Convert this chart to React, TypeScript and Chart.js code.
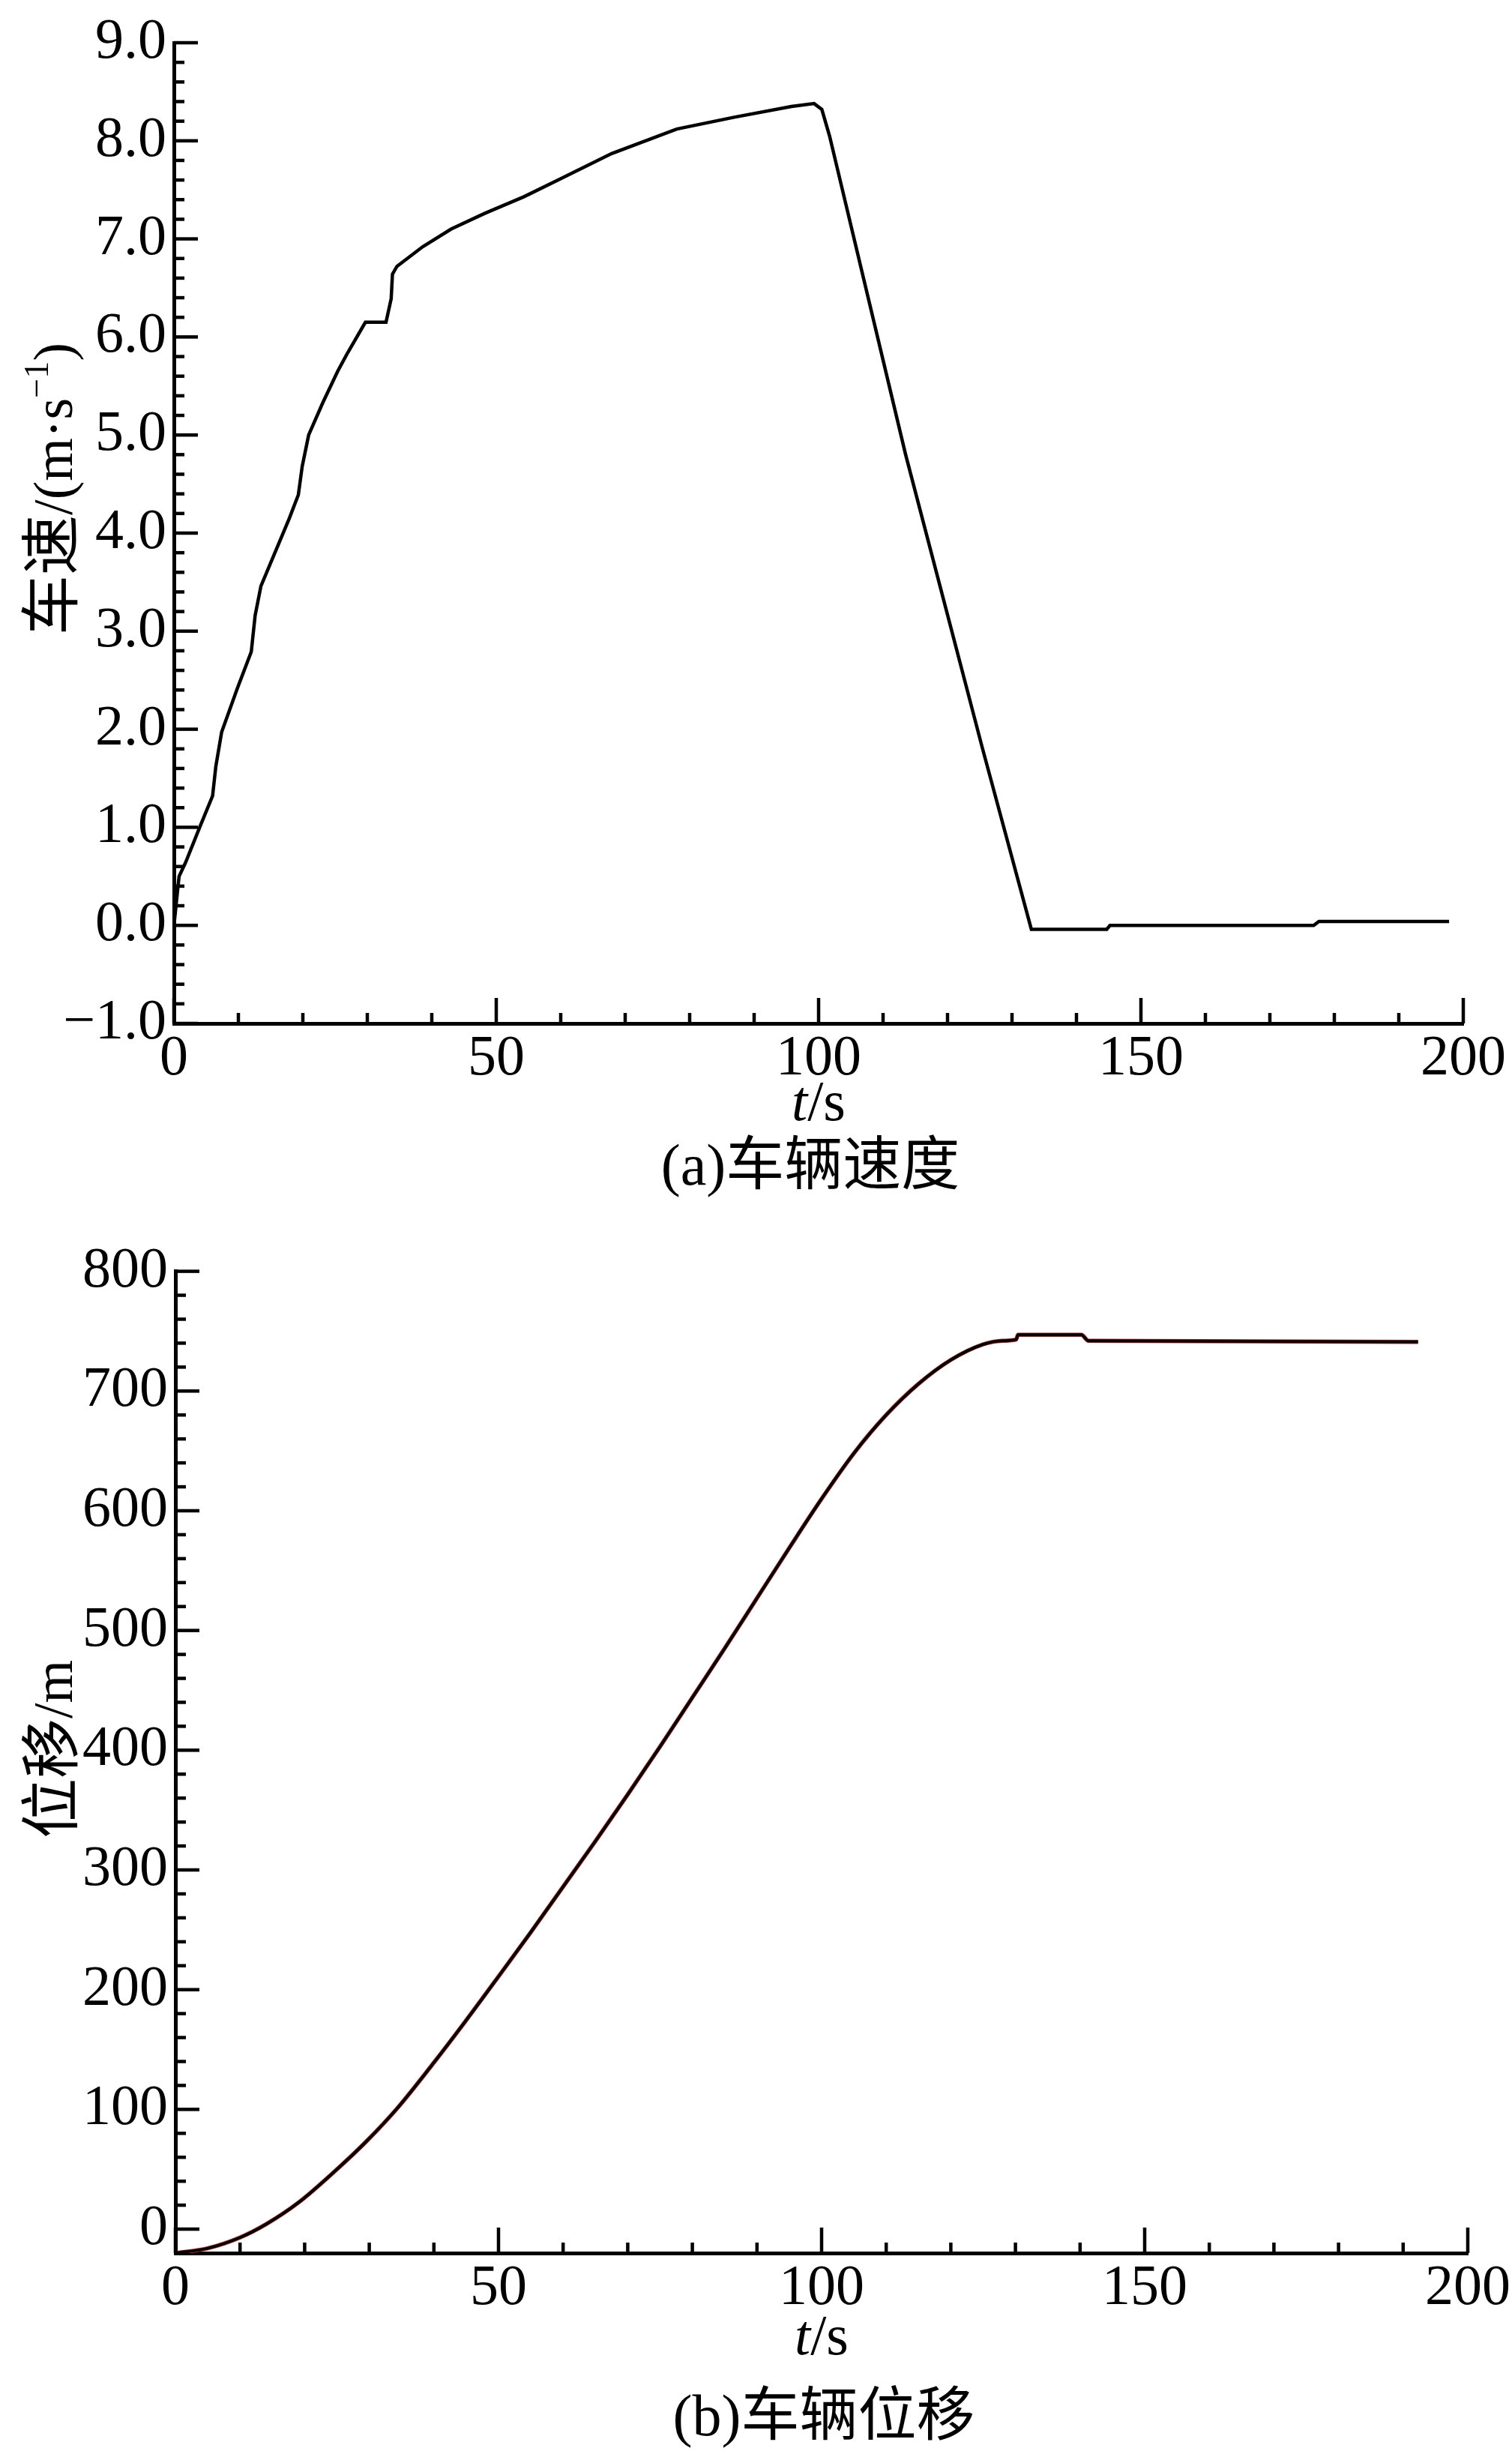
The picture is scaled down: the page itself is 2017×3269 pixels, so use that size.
import React, { useEffect, useRef } from "react";
import { Chart, registerables } from "chart.js";

Chart.register(...registerables);

// ---------- data ----------
const speedTime = [0, 0.2, 0.8, 1.8, 4.0, 6.0, 6.5, 7.4, 9.8, 12.0, 12.6, 13.5, 17.9, 19.3, 19.9, 20.9, 23.1, 25.4, 26.8, 29.7, 32.9, 33.7, 33.9, 34.6, 38.6, 43.0, 48.2, 54.3, 60.2, 67.9, 78.0, 86.9, 95.8, 99.3, 100.5, 101.7, 113.5, 125.4, 133.0, 144.7, 145.2, 176.8, 177.6, 197.8];
const speedValues = [0.0, 0.12, 0.5, 0.64, 1.0, 1.32, 1.62, 1.97, 2.41, 2.79, 3.16, 3.46, 4.15, 4.39, 4.68, 5.0, 5.33, 5.65, 5.82, 6.15, 6.15, 6.39, 6.64, 6.72, 6.92, 7.1, 7.26, 7.43, 7.62, 7.87, 8.12, 8.24, 8.35, 8.38, 8.32, 8.05, 4.8, 1.81, -0.04, -0.04, 0.0, 0.0, 0.04, 0.04];

const dispTime = [0, 5, 10, 14, 19, 25, 29.5, 34.5, 39.7, 44.8, 50, 55, 60, 65, 70, 75, 80, 85, 90, 95, 100, 105, 110, 115, 120, 125, 128, 130.1, 130.4, 140.2, 141.3, 192.3];
const dispValues = [-20, -16, -7, 4, 22, 50, 73, 102, 137, 173, 211, 248, 286, 324, 363, 403, 444, 485, 527, 569, 610, 648, 680, 706, 726, 739, 742, 743, 747, 747, 742, 741];

const timeTicks = [0, 50, 100, 150, 200];
const speedTicks = [-1, 0, 1, 2, 3, 4, 5, 6, 7, 8, 9];
const dispTicks = [0, 100, 200, 300, 400, 500, 600, 700, 800];

const SERIF = "'Liberation Serif', 'Times New Roman', 'Noto Sans CJK SC', serif";
const PAGE_W = 2017;

// ---------- plugin: inward ticks, axis titles, caption ----------
const decorPlugin = {
  id: "decor",
  afterDraw(chart: any, _args: any, opts: any) {
    const { ctx, chartArea } = chart;
    const xs = chart.scales.x;
    const ys = chart.scales.y;
    ctx.save();
    ctx.strokeStyle = "#000";
    ctx.lineWidth = 4.5;
    ctx.lineCap = "butt";
    // y ticks (pointing into the plot)
    const ny = Math.round((ys.max - ys.min) / opts.yMinor);
    for (let k = 0; k <= ny; k++) {
      const v = ys.min + k * opts.yMinor;
      const r = v / opts.yMajor;
      const major = Math.abs(r - Math.round(r)) < 1e-6;
      const len = major ? 32 : 14;
      const py = ys.getPixelForValue(v);
      ctx.beginPath();
      ctx.moveTo(chartArea.left, py);
      ctx.lineTo(chartArea.left + len, py);
      ctx.stroke();
    }
    // x ticks
    const nx = Math.round((xs.max - xs.min) / opts.xMinor);
    for (let k = 0; k <= nx; k++) {
      const v = xs.min + k * opts.xMinor;
      const r = v / opts.xMajor;
      const major = Math.abs(r - Math.round(r)) < 1e-6;
      const len = major ? 34 : 14;
      const px = xs.getPixelForValue(v);
      ctx.beginPath();
      ctx.moveTo(px, chartArea.bottom);
      ctx.lineTo(px, chartArea.bottom - len);
      ctx.stroke();
    }

    ctx.fillStyle = "#000";
    ctx.textBaseline = "middle";
    // x title: italic t + /s
    const cx = (chartArea.left + chartArea.right) / 2;
    ctx.font = `italic 76px ${SERIF}`;
    const wt = ctx.measureText("t").width;
    ctx.font = `76px ${SERIF}`;
    const ws = ctx.measureText("/s").width;
    const sx = cx - (wt + ws) / 2;
    ctx.textAlign = "left";
    ctx.font = `italic 76px ${SERIF}`;
    ctx.fillText("t", sx, opts.xTitleY);
    ctx.font = `76px ${SERIF}`;
    ctx.fillText("/s", sx + wt, opts.xTitleY);

    // caption
    ctx.textAlign = "center";
    ctx.font = `78px ${SERIF}`;
    ctx.fillText(opts.caption, opts.captionX, opts.captionY);

    // y title (rotated)
    ctx.save();
    ctx.translate(opts.yTitleX, opts.yTitleY);
    ctx.rotate(-Math.PI / 2);
    ctx.textBaseline = "alphabetic";
    ctx.textAlign = "left";
    const parts: { t: string; size: number; dy: number }[] = opts.yParts;
    let total = 0;
    for (const p of parts) {
      ctx.font = `${p.size}px ${SERIF}`;
      total += ctx.measureText(p.t).width;
    }
    let px = -total / 2;
    for (const p of parts) {
      ctx.font = `${p.size}px ${SERIF}`;
      ctx.fillText(p.t, px, p.dy);
      px += ctx.measureText(p.t).width;
    }
    ctx.restore();
    ctx.restore();
  },
};

const tickFont = { family: SERIF, size: 76 };

function baseScales(opts: {
  xTicks: number[];
  yTicks: number[];
  yMin: number;
  yMax: number;
  yWidth: number;
  xHeight: number;
  yFmt: (v: number) => string;
}) {
  return {
    x: {
      type: "linear",
      min: 0,
      max: 200,
      afterBuildTicks: (s: any) => {
        s.ticks = opts.xTicks.map((v) => ({ value: v }));
      },
      afterFit: (s: any) => {
        s.height = opts.xHeight;
      },
      grid: { display: false, drawTicks: false },
      border: { display: true, color: "#000", width: 5 },
      ticks: {
        font: tickFont,
        color: "#000",
        padding: 2,
        maxRotation: 0,
        autoSkip: false,
        callback: (v: any) => String(v),
      },
    },
    y: {
      type: "linear",
      min: opts.yMin,
      max: opts.yMax,
      afterBuildTicks: (s: any) => {
        s.ticks = opts.yTicks.map((v) => ({ value: v }));
      },
      afterFit: (s: any) => {
        s.width = opts.yWidth;
      },
      grid: { display: false, drawTicks: false },
      border: { display: true, color: "#000", width: 5 },
      ticks: {
        font: tickFont,
        color: "#000",
        padding: 10,
        autoSkip: false,
        callback: (v: any) => opts.yFmt(Number(v)),
      },
    },
  };
}

const TOP_H = 1640;
const BOT_TOP = 1640;
const BOT_H = 3269 - 1640;

function speedConfig(): any {
  return {
    type: "line",
    data: {
      datasets: [
        {
          label: "车速",
          data: speedTime.map((t, i) => ({ x: t, y: speedValues[i] })),
          borderColor: "#000",
          borderWidth: 4.5,
          pointRadius: 0,
          tension: 0,
          fill: false,
        },
      ],
    },
    options: {
      animation: false,
      responsive: false,
      devicePixelRatio: 1,
      layout: { padding: { left: 0, top: 57, right: PAGE_W - 1952, bottom: 0 } },
      plugins: {
        legend: { display: false },
        tooltip: { enabled: false },
        decor: {
          yMinor: 0.2,
          yMajor: 1,
          xMinor: 10,
          xMajor: 50,
          xTitleY: 1474,
          caption: "(a)车辆速度",
          captionX: 1081,
          captionY: 1560,
          yTitleX: 96,
          yTitleY: 652,
          yParts: [
            { t: "车速", size: 80, dy: 0 },
            { t: "/(m·s", size: 74, dy: 0 },
            { t: "−1", size: 46, dy: -32 },
            { t: ")", size: 74, dy: 0 },
          ],
        },
      },
      scales: baseScales({
        xTicks: timeTicks,
        yTicks: speedTicks,
        yMin: -1,
        yMax: 9,
        yWidth: 232,
        xHeight: TOP_H - 1365,
        yFmt: (v) => (v < 0 ? "−" + Math.abs(v).toFixed(1) : v.toFixed(1)),
      }),
    },
    plugins: [decorPlugin],
  };
}

function dispConfig(): any {
  const pts = dispTime.map((t, i) => ({ x: t, y: dispValues[i] }));
  return {
    type: "line",
    data: {
      datasets: [
        {
          label: "位移",
          data: pts,
          borderColor: "#000",
          borderWidth: 4,
          pointRadius: 0,
          cubicInterpolationMode: "monotone",
          fill: false,
        },
        {
          label: "位移(仿真)",
          data: pts,
          borderColor: "#d81e1e",
          borderWidth: 5.5,
          pointRadius: 0,
          cubicInterpolationMode: "monotone",
          fill: false,
        },
      ],
    },
    options: {
      animation: false,
      responsive: false,
      devicePixelRatio: 1,
      layout: { padding: { left: 0, top: 1695 - BOT_TOP, right: PAGE_W - 1958, bottom: 0 } },
      plugins: {
        legend: { display: false },
        tooltip: { enabled: false },
        decor: {
          yMinor: 20,
          yMajor: 100,
          xMinor: 10,
          xMajor: 50,
          xTitleY: 3120 - BOT_TOP,
          caption: "(b)车辆位移",
          captionX: 1099,
          captionY: 3228 - BOT_TOP,
          yTitleX: 96,
          yTitleY: 2333 - BOT_TOP,
          yParts: [
            { t: "位移", size: 80, dy: 0 },
            { t: "/m", size: 74, dy: 0 },
          ],
        },
      },
      scales: baseScales({
        xTicks: timeTicks,
        yTicks: dispTicks,
        yMin: -20,
        yMax: 800,
        yWidth: 234,
        xHeight: BOT_H - (3005 - BOT_TOP),
        yFmt: (v) => String(v),
      }),
    },
    plugins: [decorPlugin],
  };
}

function Panel({ top, height, make }: { top: number; height: number; make: () => any }) {
  const ref = useRef<HTMLCanvasElement>(null);
  useEffect(() => {
    if (!ref.current) return;
    const chart = new Chart(ref.current, make());
    return () => chart.destroy();
  }, []);
  return (
    <canvas
      ref={ref}
      width={PAGE_W}
      height={height}
      style={{ position: "absolute", left: 0, top, width: PAGE_W, height, display: "block" }}
    />
  );
}

export default function App() {
  return (
    <div
      style={{
        position: "absolute",
        left: 0,
        top: 0,
        width: PAGE_W,
        height: 3269,
        background: "#fff",
        overflow: "hidden",
      }}
    >
      <Panel top={0} height={TOP_H} make={speedConfig} />
      <Panel top={BOT_TOP} height={BOT_H} make={dispConfig} />
    </div>
  );
}
